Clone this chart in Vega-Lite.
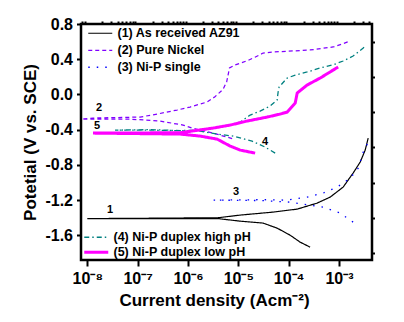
{
  "$schema": "https://vega.github.io/schema/vega-lite/v6.json",
  "width": 291,
  "height": 236,
  "autosize": {"type": "none"},
  "padding": {"left": 81, "top": 24, "right": 32, "bottom": 62},
  "background": "white",
  "config": {
    "view": {"stroke": "#000000", "strokeWidth": 2.5},
    "font": "Liberation Sans",
    "axis": {
      "grid": false,
      "domain": false,
      "tickColor": "#000000",
      "tickWidth": 2,
      "labelColor": "#000000",
      "labelFont": "Liberation Sans",
      "labelFontWeight": "bold",
      "titleColor": "#000000",
      "titleFont": "Liberation Sans",
      "titleFontWeight": "bold"
    },
    "legend": {
      "labelFont": "Liberation Sans",
      "labelFontWeight": "bold",
      "labelColor": "#000000"
    }
  },
  "resolve": {
    "scale": {"color": "independent", "strokeDash": "independent", "strokeWidth": "independent"},
    "axis": {"x": "independent", "y": "independent"}
  },
  "layer": [
    {
      "data": {"values": [
        {"s": "(1) As received AZ91", "k": 1, "i": 2.67e-4, "E": -1.734},
        {"s": "(1) As received AZ91", "k": 2, "i": 1.69e-4, "E": -1.677},
        {"s": "(1) As received AZ91", "k": 3, "i": 1.07e-4, "E": -1.598},
        {"s": "(1) As received AZ91", "k": 4, "i": 5.90e-5, "E": -1.518},
        {"s": "(1) As received AZ91", "k": 5, "i": 3.11e-5, "E": -1.461},
        {"s": "(1) As received AZ91", "k": 6, "i": 1.09e-5, "E": -1.439},
        {"s": "(1) As received AZ91", "k": 7, "i": 3.96e-6, "E": -1.41},
        {"s": "(1) As received AZ91", "k": 8, "i": 8.1e-7, "E": -1.41},
        {"s": "(1) As received AZ91", "k": 9, "i": 1.3e-7, "E": -1.41},
        {"s": "(1) As received AZ91", "k": 10, "i": 1.0e-8, "E": -1.41},
        {"s": "(1) As received AZ91", "k": 11, "i": 1.3e-7, "E": -1.406},
        {"s": "(1) As received AZ91", "k": 12, "i": 3.96e-6, "E": -1.40},
        {"s": "(1) As received AZ91", "k": 13, "i": 1.09e-5, "E": -1.37},
        {"s": "(1) As received AZ91", "k": 14, "i": 4.92e-5, "E": -1.336},
        {"s": "(1) As received AZ91", "k": 15, "i": 1.48e-4, "E": -1.302},
        {"s": "(1) As received AZ91", "k": 16, "i": 3.69e-4, "E": -1.234},
        {"s": "(1) As received AZ91", "k": 17, "i": 6.68e-4, "E": -1.166},
        {"s": "(1) As received AZ91", "k": 18, "i": 1.21e-3, "E": -1.052},
        {"s": "(1) As received AZ91", "k": 19, "i": 1.91e-3, "E": -0.893},
        {"s": "(1) As received AZ91", "k": 20, "i": 2.64e-3, "E": -0.768},
        {"s": "(1) As received AZ91", "k": 21, "i": 3.32e-3, "E": -0.632},
        {"s": "(1) As received AZ91", "k": 22, "i": 3.81e-3, "E": -0.495},

        {"s": "(2) Pure Nickel", "k": 1, "i": 7.54e-6, "E": -0.501},
        {"s": "(2) Pure Nickel", "k": 2, "i": 3.15e-6, "E": -0.439},
        {"s": "(2) Pure Nickel", "k": 3, "i": 1.21e-6, "E": -0.382},
        {"s": "(2) Pure Nickel", "k": 4, "i": 8.0e-7, "E": -0.348},
        {"s": "(2) Pure Nickel", "k": 5, "i": 2.79e-7, "E": -0.302},
        {"s": "(2) Pure Nickel", "k": 6, "i": 7.06e-8, "E": -0.28},
        {"s": "(2) Pure Nickel", "k": 7, "i": 7.8e-9, "E": -0.28},
        {"s": "(2) Pure Nickel", "k": 8, "i": 1.30e-8, "E": -0.268},
        {"s": "(2) Pure Nickel", "k": 9, "i": 1.12e-7, "E": -0.257},
        {"s": "(2) Pure Nickel", "k": 10, "i": 2.43e-7, "E": -0.223},
        {"s": "(2) Pure Nickel", "k": 11, "i": 6.07e-7, "E": -0.177},
        {"s": "(2) Pure Nickel", "k": 12, "i": 1.10e-6, "E": -0.143},
        {"s": "(2) Pure Nickel", "k": 13, "i": 2.40e-6, "E": -0.086},
        {"s": "(2) Pure Nickel", "k": 14, "i": 3.44e-6, "E": -0.026},
        {"s": "(2) Pure Nickel", "k": 15, "i": 4.97e-6, "E": 0.058},
        {"s": "(2) Pure Nickel", "k": 16, "i": 5.88e-6, "E": 0.144},
        {"s": "(2) Pure Nickel", "k": 17, "i": 6.38e-6, "E": 0.243},
        {"s": "(2) Pure Nickel", "k": 18, "i": 6.68e-6, "E": 0.30},
        {"s": "(2) Pure Nickel", "k": 19, "i": 8.59e-6, "E": 0.334},
        {"s": "(2) Pure Nickel", "k": 20, "i": 1.17e-5, "E": 0.36},
        {"s": "(2) Pure Nickel", "k": 21, "i": 1.63e-5, "E": 0.391},
        {"s": "(2) Pure Nickel", "k": 22, "i": 2.14e-5, "E": 0.423},
        {"s": "(2) Pure Nickel", "k": 23, "i": 3.11e-5, "E": 0.47},
        {"s": "(2) Pure Nickel", "k": 24, "i": 4.92e-5, "E": 0.482},
        {"s": "(2) Pure Nickel", "k": 25, "i": 2.67e-4, "E": 0.505},
        {"s": "(2) Pure Nickel", "k": 26, "i": 7.67e-4, "E": 0.539},
        {"s": "(2) Pure Nickel", "k": 27, "i": 1.16e-3, "E": 0.573},
        {"s": "(2) Pure Nickel", "k": 28, "i": 1.67e-3, "E": 0.607},

        {"s": "(3) Ni-P single", "k": 1, "i": 1.91e-3, "E": -1.45},
        {"s": "(3) Ni-P single", "k": 2, "i": 1.06e-3, "E": -1.348},
        {"s": "(3) Ni-P single", "k": 3, "i": 4.85e-4, "E": -1.28},
        {"s": "(3) Ni-P single", "k": 4, "i": 2.67e-4, "E": -1.257},
        {"s": "(3) Ni-P single", "k": 5, "i": 1.07e-4, "E": -1.223},
        {"s": "(3) Ni-P single", "k": 6, "i": 3.0e-5, "E": -1.205},
        {"s": "(3) Ni-P single", "k": 7, "i": 3.18e-6, "E": -1.2},
        {"s": "(3) Ni-P single", "k": 8, "i": 3.0e-5, "E": -1.195},
        {"s": "(3) Ni-P single", "k": 9, "i": 9.33e-5, "E": -1.2},
        {"s": "(3) Ni-P single", "k": 10, "i": 2.33e-4, "E": -1.166},
        {"s": "(3) Ni-P single", "k": 11, "i": 4.85e-4, "E": -1.12},
        {"s": "(3) Ni-P single", "k": 12, "i": 9.22e-4, "E": -1.052},
        {"s": "(3) Ni-P single", "k": 13, "i": 1.68e-3, "E": -0.95},
        {"s": "(3) Ni-P single", "k": 14, "i": 2.42e-3, "E": -0.836},
        {"s": "(3) Ni-P single", "k": 15, "i": 3.03e-3, "E": -0.655},
        {"s": "(3) Ni-P single", "k": 16, "i": 3.81e-3, "E": -0.541}
      ]},
      "mark": {"type": "line", "clip": true},
      "encoding": {
        "x": {
          "field": "i", "type": "quantitative",
          "scale": {"type": "log", "domain": [7.5e-9, 4.53e-3], "nice": false},
          "axis": {
            "values": [1e-8, 1e-7, 1e-6, 1e-5, 1e-4, 1e-3],
            "labelExpr": "'10' + ['⁻⁹','⁻⁸','⁻⁷','⁻⁶','⁻⁵','⁻⁴','⁻³'][round(log(datum.value)/LN10)+9]",
            "tickSize": 6,
            "labelPadding": 4,
            "labelFontSize": 16,
            "labelFlush": false,
            "labelOverlap": false,
            "title": "Current density (Acm⁻²)",
            "titleFontSize": 17,
            "titleX": 133,
            "titleY": 45,
            "titleAlign": "center",
            "titleBaseline": "alphabetic"
          }
        },
        "y": {
          "field": "E", "type": "quantitative",
          "scale": {"domain": [-1.88, 0.8], "nice": false, "zero": false},
          "axis": {
            "values": [0.8, 0.4, 0, -0.4, -0.8, -1.2, -1.6],
            "labelExpr": "datum.value < 0 ? '-' + format(-datum.value, '.1f') : format(datum.value, '.1f')",
            "tickSize": 4.5,
            "labelPadding": 4,
            "labelFontSize": 16,
            "title": "Potetial (V vs. SCE)",
            "titleFontSize": 17,
            "titlePadding": 5
          }
        },
        "order": {"field": "k", "type": "quantitative"},
        "color": {
          "field": "s", "type": "nominal",
          "scale": {"domain": ["(1) As received AZ91", "(2) Pure Nickel", "(3) Ni-P single"], "range": ["#000000", "#8000ff", "#0000ff"]},
          "legend": {"orient": "top-left", "offset": 3, "padding": 0, "title": null, "labelFontSize": 12.5, "symbolType": "M-3,0H3", "symbolSize": 64, "symbolOffset": 10, "labelOffset": 11, "rowPadding": 4}
        },
        "strokeDash": {
          "field": "s", "type": "nominal",
          "scale": {"domain": ["(1) As received AZ91", "(2) Pure Nickel", "(3) Ni-P single"], "range": [[1, 0], [4, 3], [1.5, 7]]},
          "legend": {"orient": "top-left", "offset": 3, "padding": 0, "title": null, "labelFontSize": 12.5, "symbolType": "M-3,0H3", "symbolSize": 64, "symbolOffset": 10, "labelOffset": 11, "rowPadding": 4}
        },
        "strokeWidth": {
          "field": "s", "type": "nominal",
          "scale": {"domain": ["(1) As received AZ91", "(2) Pure Nickel", "(3) Ni-P single"], "range": [1.2, 1.3, 1.7]},
          "legend": {"orient": "top-left", "offset": 3, "padding": 0, "title": null, "labelFontSize": 12.5, "symbolType": "M-3,0H3", "symbolSize": 64, "symbolOffset": 10, "labelOffset": 11, "rowPadding": 4}
        }
      }
    },
    {
      "data": {"values": [
        {"s": "(4) Ni-P duplex high pH", "k": 1, "i": 5.40e-5, "E": -0.666},
        {"s": "(4) Ni-P duplex high pH", "k": 2, "i": 3.41e-5, "E": -0.598},
        {"s": "(4) Ni-P duplex high pH", "k": 3, "i": 1.88e-5, "E": -0.53},
        {"s": "(4) Ni-P duplex high pH", "k": 4, "i": 7.89e-6, "E": -0.473},
        {"s": "(4) Ni-P duplex high pH", "k": 5, "i": 3.79e-6, "E": -0.45},
        {"s": "(4) Ni-P duplex high pH", "k": 6, "i": 1.74e-6, "E": -0.416},
        {"s": "(4) Ni-P duplex high pH", "k": 7, "i": 1.77e-7, "E": -0.405},
        {"s": "(4) Ni-P duplex high pH", "k": 8, "i": 3.56e-8, "E": -0.405},
        {"s": "(4) Ni-P duplex high pH", "k": 9, "i": 1.77e-7, "E": -0.40},
        {"s": "(4) Ni-P duplex high pH", "k": 10, "i": 6.97e-7, "E": -0.41},
        {"s": "(4) Ni-P duplex high pH", "k": 11, "i": 1.74e-6, "E": -0.405},
        {"s": "(4) Ni-P duplex high pH", "k": 12, "i": 4.35e-6, "E": -0.37},
        {"s": "(4) Ni-P duplex high pH", "k": 13, "i": 1.09e-5, "E": -0.314},
        {"s": "(4) Ni-P duplex high pH", "k": 14, "i": 1.72e-5, "E": -0.234},
        {"s": "(4) Ni-P duplex high pH", "k": 15, "i": 2.71e-5, "E": -0.189},
        {"s": "(4) Ni-P duplex high pH", "k": 16, "i": 4.28e-5, "E": -0.132},
        {"s": "(4) Ni-P duplex high pH", "k": 17, "i": 5.90e-5, "E": -0.064},
        {"s": "(4) Ni-P duplex high pH", "k": 18, "i": 6.18e-5, "E": 0.027},
        {"s": "(4) Ni-P duplex high pH", "k": 19, "i": 6.47e-5, "E": 0.084},
        {"s": "(4) Ni-P duplex high pH", "k": 20, "i": 9.33e-5, "E": 0.186},
        {"s": "(4) Ni-P duplex high pH", "k": 21, "i": 1.35e-4, "E": 0.22},
        {"s": "(4) Ni-P duplex high pH", "k": 22, "i": 2.33e-4, "E": 0.255},
        {"s": "(4) Ni-P duplex high pH", "k": 23, "i": 4.23e-4, "E": 0.30},
        {"s": "(4) Ni-P duplex high pH", "k": 24, "i": 8.39e-4, "E": 0.345},
        {"s": "(4) Ni-P duplex high pH", "k": 25, "i": 1.21e-3, "E": 0.38},
        {"s": "(4) Ni-P duplex high pH", "k": 26, "i": 1.91e-3, "E": 0.436},
        {"s": "(4) Ni-P duplex high pH", "k": 27, "i": 3.03e-3, "E": 0.527},
        {"s": "(4) Ni-P duplex high pH", "k": 28, "i": 3.32e-3, "E": 0.55},

        {"s": "(5) Ni-P duplex low pH", "k": 1, "i": 2.16e-5, "E": -0.666},
        {"s": "(5) Ni-P duplex low pH", "k": 2, "i": 1.09e-5, "E": -0.632},
        {"s": "(5) Ni-P duplex low pH", "k": 3, "i": 6.87e-6, "E": -0.586},
        {"s": "(5) Ni-P duplex low pH", "k": 4, "i": 3.79e-6, "E": -0.507},
        {"s": "(5) Ni-P duplex low pH", "k": 5, "i": 1.74e-6, "E": -0.473},
        {"s": "(5) Ni-P duplex low pH", "k": 6, "i": 6.97e-7, "E": -0.45},
        {"s": "(5) Ni-P duplex low pH", "k": 7, "i": 1.30e-8, "E": -0.439},
        {"s": "(5) Ni-P duplex low pH", "k": 8, "i": 6.97e-7, "E": -0.435},
        {"s": "(5) Ni-P duplex low pH", "k": 9, "i": 3.15e-6, "E": -0.382},
        {"s": "(5) Ni-P duplex low pH", "k": 10, "i": 6.87e-6, "E": -0.348},
        {"s": "(5) Ni-P duplex low pH", "k": 11, "i": 1.50e-5, "E": -0.302},
        {"s": "(5) Ni-P duplex low pH", "k": 12, "i": 3.74e-5, "E": -0.257},
        {"s": "(5) Ni-P duplex low pH", "k": 13, "i": 6.78e-5, "E": -0.223},
        {"s": "(5) Ni-P duplex low pH", "k": 14, "i": 9.33e-5, "E": -0.20},
        {"s": "(5) Ni-P duplex low pH", "k": 15, "i": 1.35e-4, "E": -0.098},
        {"s": "(5) Ni-P duplex low pH", "k": 16, "i": 1.48e-4, "E": 0.016},
        {"s": "(5) Ni-P duplex low pH", "k": 17, "i": 2.33e-4, "E": 0.107},
        {"s": "(5) Ni-P duplex low pH", "k": 18, "i": 4.23e-4, "E": 0.186},
        {"s": "(5) Ni-P duplex low pH", "k": 19, "i": 7.67e-4, "E": 0.277},
        {"s": "(5) Ni-P duplex low pH", "k": 20, "i": 9.64e-4, "E": 0.311}
      ]},
      "mark": {"type": "line", "clip": true},
      "encoding": {
        "x": {
          "field": "i", "type": "quantitative",
          "scale": {"type": "log", "domain": [7.5e-9, 4.53e-3], "nice": false},
          "axis": {
            "values": [8e-9, 9e-9, 2e-8, 3e-8, 4e-8, 5e-8, 6e-8, 7e-8, 8e-8, 9e-8, 2e-7, 3e-7, 4e-7, 5e-7, 6e-7, 7e-7, 8e-7, 9e-7, 2e-6, 3e-6, 4e-6, 5e-6, 6e-6, 7e-6, 8e-6, 9e-6, 2e-5, 3e-5, 4e-5, 5e-5, 6e-5, 7e-5, 8e-5, 9e-5, 2e-4, 3e-4, 4e-4, 5e-4, 6e-4, 7e-4, 8e-4, 9e-4, 2e-3, 3e-3, 4e-3],
            "labels": false,
            "tickSize": 3,
            "title": null
          }
        },
        "y": {
          "field": "E", "type": "quantitative",
          "scale": {"domain": [-1.88, 0.8], "nice": false, "zero": false},
          "axis": {
            "values": [0.6, 0.2, -0.2, -0.6, -1.0, -1.4, -1.8],
            "labels": false,
            "tickSize": 2.5,
            "title": null
          }
        },
        "order": {"field": "k", "type": "quantitative"},
        "color": {
          "field": "s", "type": "nominal",
          "scale": {"domain": ["(4) Ni-P duplex high pH", "(5) Ni-P duplex low pH"], "range": ["#008080", "#ff00ff"]},
          "legend": {"orient": "bottom-left", "offset": 1, "padding": 0, "title": null, "labelFontSize": 12.5, "symbolType": "M-3,0H3", "symbolSize": 64, "symbolOffset": 8, "labelOffset": 11, "rowPadding": 2}
        },
        "strokeDash": {
          "field": "s", "type": "nominal",
          "scale": {"domain": ["(4) Ni-P duplex high pH", "(5) Ni-P duplex low pH"], "range": [[5, 3, 1.5, 3], [1, 0]]},
          "legend": {"orient": "bottom-left", "offset": 1, "padding": 0, "title": null, "labelFontSize": 12.5, "symbolType": "M-3,0H3", "symbolSize": 64, "symbolOffset": 8, "labelOffset": 11, "rowPadding": 2}
        },
        "strokeWidth": {
          "field": "s", "type": "nominal",
          "scale": {"domain": ["(4) Ni-P duplex high pH", "(5) Ni-P duplex low pH"], "range": [1.3, 3]},
          "legend": {"orient": "bottom-left", "offset": 1, "padding": 0, "title": null, "labelFontSize": 12.5, "symbolType": "M-3,0H3", "symbolSize": 64, "symbolOffset": 8, "labelOffset": 11, "rowPadding": 2}
        }
      }
    },
    {
      "data": {"values": [
        {"n": "1", "i": 2.83e-8, "E": -1.314},
        {"n": "2", "i": 1.71e-8, "E": -0.155},
        {"n": "3", "i": 9.0e-6, "E": -1.109},
        {"n": "4", "i": 3.39e-5, "E": -0.541},
        {"n": "5", "i": 1.56e-8, "E": -0.359}
      ]},
      "mark": {"type": "text", "font": "Liberation Sans", "fontWeight": "bold", "fontSize": 11, "color": "#000000", "baseline": "middle", "align": "center"},
      "encoding": {
        "x": {"field": "i", "type": "quantitative", "scale": {"type": "log", "domain": [7.5e-9, 4.53e-3], "nice": false}, "axis": null},
        "y": {"field": "E", "type": "quantitative", "scale": {"domain": [-1.88, 0.8], "nice": false, "zero": false}, "axis": null},
        "text": {"field": "n", "type": "nominal"}
      }
    }
  ]
}
